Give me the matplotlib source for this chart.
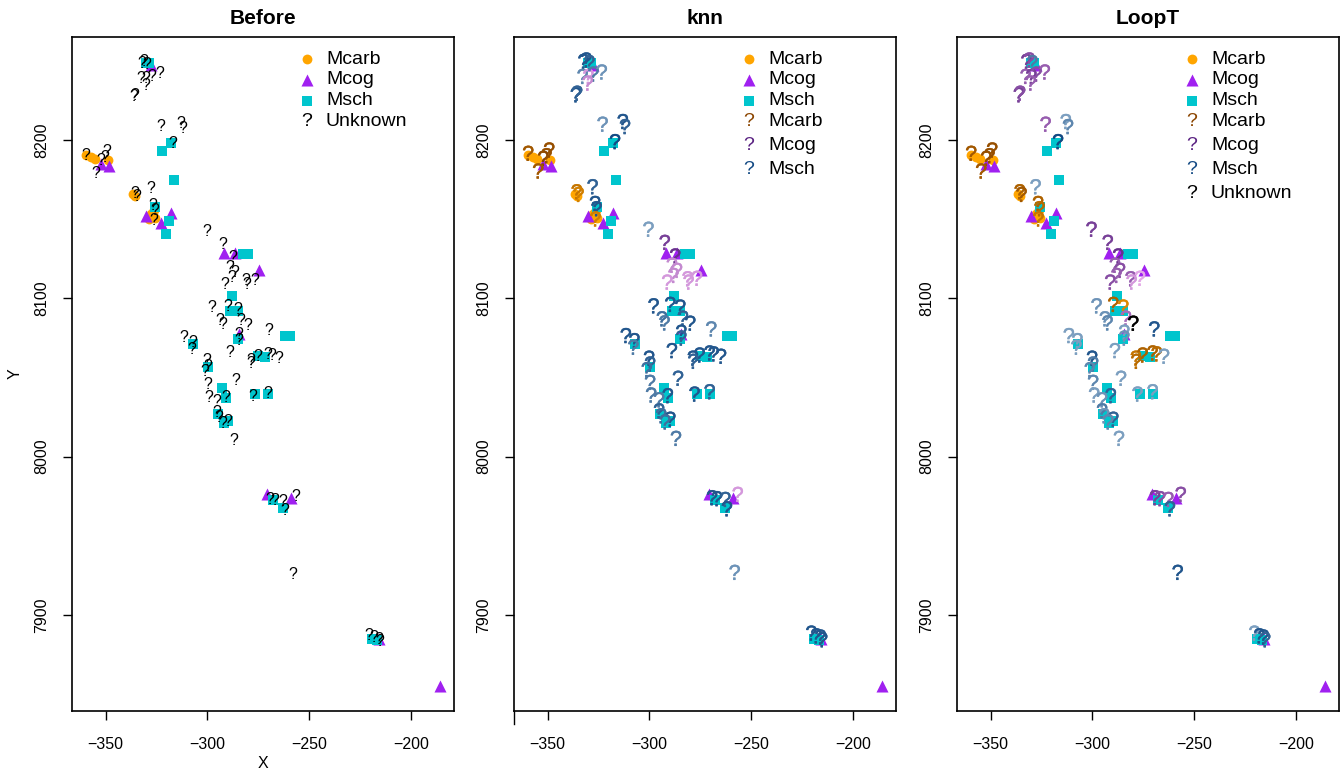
import numpy as np
import matplotlib.pyplot as plt
import matplotlib.patheffects as pe
from matplotlib.colors import to_rgb

plt.rcParams['font.family'] = ['Liberation Sans', 'DejaVu Sans']

# reference samples with a known lithology
carb_x = [-359.5, -357.0, -355.4, -348.9, -336.6, -335.5, -327.5, -325.5, -328.5, -326.0]
carb_y = [8190.9, 8189.5, 8188.4, 8187.3, 8166.2, 8165.0, 8153.5, 8151.0, 8150.0, 8156.0]

cog_x = [-352.0, -348.4, -330.0, -323.0, -317.7, -327.5, -291.8, -286.5, -274.7,
         -284.4, -271.0, -259.2, -216.0, -186.0]
cog_y = [8185.0, 8184.0, 8152.4, 8148.0, 8154.0, 8247.6, 8129.0, 8129.0, 8118.2,
         8077.4, 7976.4, 7973.8, 7885.0, 7855.0]

sch_x = [-330.0, -328.5, -322.1, -317.7, -316.6, -319.0, -320.1, -325.9, -282.5, -280.0,
         -288.2, -289.0, -284.9, -284.9, -262.0, -259.5, -307.1, -275.4, -271.8, -299.7,
         -293.1, -291.1, -276.7, -270.2, -294.8, -289.8, -292.0, -267.7, -262.8, -219.3,
         -217.0]
sch_y = [8248.7, 8249.0, 8193.2, 8198.3, 8174.6, 8148.8, 8140.8, 8157.7, 8128.2, 8128.2,
         8101.7, 8092.2, 8092.2, 8074.3, 8076.3, 8076.3, 8071.5, 8063.7, 8063.0, 8056.7,
         8043.6, 8037.3, 8039.4, 8039.4, 8027.1, 8022.4, 8021.0, 7972.8, 7967.5, 7885.0,
         7884.0]

# unlabelled samples
unk_x = [-332.4, -331.0, -329.5, -332.8, -330.0, -327.5, -323.4, -330.3, -336.1, -335.5,
         -323.0, -313.1, -312.0, -316.9, -359.5, -349.2, -352.1, -354.6, -350.5, -335.7,
         -334.8, -327.9, -326.7, -326.0, -326.5, -300.5, -292.5, -287.4, -289.0, -286.5,
         -288.2, -291.3, -281.3, -276.7, -280.8, -298.0, -289.8, -284.9, -293.9, -292.6,
         -283.6, -280.0, -284.4, -284.4, -269.7, -311.6, -307.4, -307.9, -289.0, -278.7,
         -278.5, -275.4, -270.5, -268.5, -264.9, -300.2, -299.7, -301.3, -286.0, -299.7,
         -299.2, -295.3, -291.0, -277.9, -270.5, -295.3, -294.3, -289.8, -292.3, -287.0,
         -269.3, -266.9, -262.8, -256.7, -262.0, -258.2, -220.6, -218.2, -216.1, -215.3]
unk_y = [8248.6, 8249.5, 8247.8, 8239.1, 8239.0, 8240.6, 8241.9, 8234.9, 8227.5, 8228.5,
         8208.9, 8210.6, 8207.4, 8197.9, 8190.5, 8192.6, 8187.3, 8179.3, 8189.0, 8166.2,
         8164.5, 8169.4, 8158.8, 8155.5, 8149.0, 8142.5, 8134.2, 8125.6, 8119.7, 8116.5,
         8113.3, 8109.1, 8111.2, 8111.5, 8109.1, 8094.1, 8095.0, 8093.3, 8085.9, 8083.3,
         8086.3, 8083.1, 8077.4, 8073.7, 8079.5, 8075.3, 8072.1, 8067.9, 8065.8, 8061.0,
         8059.0, 8063.0, 8064.3, 8063.7, 8062.2, 8061.0, 8057.3, 8053.7, 8048.3, 8045.7,
         8037.7, 8034.7, 8037.3, 8038.3, 8039.8, 8027.7, 8024.6, 8022.4, 8020.7, 8010.3,
         7972.8, 7972.2, 7971.7, 7974.9, 7965.8, 7925.6, 7887.2, 7885.5, 7884.7, 7883.0]

# predicted class (C = Mcarb, G = Mcog, S = Msch, U = Unknown) and its probability
knn_cls = list('SSSSGSSGSS' 'SSSSCCCCCC' 'CSSSCSGGGG' 'GGGGGSSSSS'
               'SSSSSSSSSS' 'SSSSSSSSSS' 'SSSSSSSSSS' 'SSSGSSSSSS')
knn_p = [0.9, 0.9, 0.8, 0.5, 0.2, 0.6, 0.4, 0.3, 0.9, 0.8,
         0.4, 0.9, 0.8, 1.0, 0.8, 0.9, 1.0, 0.8, 0.9, 0.5,
         0.4, 0.8, 0.9, 0.9, 0.4, 0.3, 0.8, 0.9, 0.3, 0.3,
         0.3, 0.2, 0.2, 0.2, 0.2, 0.9, 0.9, 0.9, 0.7, 0.6,
         0.8, 0.9, 0.9, 0.8, 0.5, 0.9, 0.9, 0.6, 0.9, 0.9,
         0.8, 0.9, 0.9, 0.9, 0.9, 0.9, 0.8, 0.7, 0.8, 0.6,
         0.6, 0.6, 0.9, 0.9, 0.8, 0.8, 0.7, 0.9, 0.7, 0.6,
         0.9, 0.9, 0.8, 0.2, 0.9, 0.4, 0.9, 0.9, 0.9, 0.9]

loop_cls = list('GGSGGGGGGG' 'GSSSCCCCCC' 'CSCCCGGGGG' 'GGGGGSCCSS'
                'GUSSSSSSSC' 'CCCCSSSSSS' 'SSSSSSSSSS' 'GGGGSSSSSS')
loop_p = [0.8, 0.7, 0.6, 0.6, 0.8, 0.7, 0.6, 0.6, 0.8, 0.7,
          0.6, 0.3, 0.5, 1.0, 0.8, 0.9, 0.9, 0.8, 0.9, 0.7,
          0.8, 0.3, 0.7, 0.6, 0.5, 0.8, 0.8, 0.9, 0.6, 0.7,
          0.6, 0.7, 0.6, 0.1, 0.2, 0.4, 0.7, 0.3, 0.4, 0.5,
          0.5, 1.0, 0.3, 0.4, 0.9, 0.3, 0.3, 0.3, 0.3, 0.5,
          0.6, 0.7, 0.7, 0.6, 0.3, 0.9, 0.6, 0.5, 0.3, 0.5,
          0.3, 0.4, 0.8, 0.3, 0.3, 0.6, 0.4, 0.8, 0.5, 0.3,
          0.8, 0.7, 0.6, 0.7, 0.8, 0.9, 0.3, 0.9, 0.9, 0.8]

ramps = {'C': ('#FFA500', '#8B4500'),
         'G': ('#F2B6F2', '#5A2282'),
         'S': ('#A9C4DA', '#134A84'),
         'U': ('#000000', '#000000')}


def qcol(cls, p):
    lo = np.array(to_rgb(ramps[cls][0]))
    hi = np.array(to_rgb(ramps[cls][1]))
    return tuple(lo + (hi - lo) * p)


allx = carb_x + cog_x + sch_x + unk_x
ally = carb_y + cog_y + sch_y + unk_y
dx = (max(allx) - min(allx)) * 0.04
dy = (max(ally) - min(ally)) * 0.04

fig = plt.figure(figsize=(13.41, 7.71), dpi=100)
lefts = [72, 514, 957]
axs = [fig.add_axes([l / 1341, 60 / 771, 382 / 1341, 674 / 771]) for l in lefts]


def known(ax):
    ax.scatter(carb_x, carb_y, s=50, marker='o', color='#FFA500', linewidths=0, zorder=2)
    ax.scatter(cog_x, cog_y, s=75, marker='^', color='#A020F0', linewidths=0, zorder=2)
    ax.scatter(sch_x, sch_y, s=62, marker='s', color='#00C5CD', linewidths=0, zorder=2)


def qmark(ax, x, y, col, size, lw):
    t = ax.text(x, y, '?', fontsize=size, color=col, ha='center', va='center', zorder=3)
    if lw:
        t.set_path_effects([pe.withStroke(linewidth=lw, foreground=col)])


def legend(ax, entries):
    y = 1 - 22 / 674
    for kind, col, lab in entries:
        if kind == '?':
            ax.text(235 / 382, y, '?', color=col, fontsize=14, ha='center', va='center',
                    transform=ax.transAxes)
            step = 24.0
        else:
            ax.scatter([235 / 382], [y], s={'o': 50, '^': 75, 's': 62}[kind], marker=kind,
                       color=col, linewidths=0, transform=ax.transAxes, clip_on=False)
            step = 20.9
        ax.text(254 / 382, y, lab, fontsize=14, ha='left', va='center', transform=ax.transAxes)
        y -= step / 674


for ax, title in zip(axs, ['Before', 'knn', 'LoopT']):
    known(ax)
    ax.set_xlim(min(allx) - dx, max(allx) + dx)
    ax.set_ylim(min(ally) - dy, max(ally) + dy)
    ax.set_xticks([-350, -300, -250, -200])
    ax.set_yticks([7900, 8000, 8100, 8200])
    ax.tick_params(direction='out', length=6.5, width=1, labelsize=11.5)
    ax.tick_params(axis='x', pad=12)
    ax.tick_params(axis='y', pad=10)
    for lab in ax.get_yticklabels():
        lab.set_rotation(90)
        lab.set_va('center')
    for sp in ax.spines.values():
        sp.set_linewidth(1.2)
    ax.set_title(title, fontsize=15, fontweight='bold', pad=9)

# panel 1: raw data, unknowns in black
for x, y in zip(unk_x, unk_y):
    qmark(axs[0], x, y, 'k', 11.5, 0)

for x, y, c, p in zip(unk_x, unk_y, knn_cls, knn_p):
    qmark(axs[1], x, y, qcol(c, p), 15.5, 0.3)

for x, y, c, p in zip(unk_x, unk_y, loop_cls, loop_p):
    qmark(axs[2], x, y, qcol(c, p), 15.5, 0.3)

base_leg = [('o', '#FFA500', 'Mcarb'), ('^', '#A020F0', 'Mcog'), ('s', '#00C5CD', 'Msch')]
pred_leg = [('?', '#8B4500', 'Mcarb'), ('?', '#5A2282', 'Mcog'), ('?', '#134A84', 'Msch')]
legend(axs[0], base_leg + [('?', 'k', 'Unknown')])
legend(axs[1], base_leg + pred_leg)
legend(axs[2], base_leg + pred_leg + [('?', 'k', 'Unknown')])

axs[0].set_xlabel('X', fontsize=11.5, labelpad=3)
axs[0].set_ylabel('Y', fontsize=11.5, labelpad=8)
axs[1].plot([0, 0], [0, -0.02], color='k', lw=1, transform=axs[1].transAxes, clip_on=False)

fig.savefig('out.png', dpi=100)
